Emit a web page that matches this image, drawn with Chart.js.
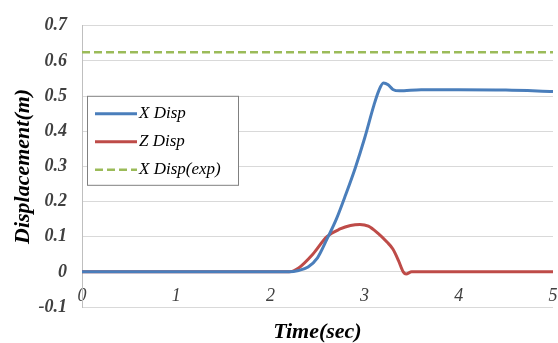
<!DOCTYPE html>
<html>
<head>
<meta charset="utf-8">
<script src="https://cdn.jsdelivr.net/npm/chart.js@4/dist/chart.umd.min.js"></script>
<style>
	html, body { margin: 0; padding: 0; background: #fff; }
	#wrap { width: 558px; height: 343px; position: relative; }
</style>
</head>
<body>
<div id="wrap"><canvas id="chart"></canvas></div>
<script>
"use strict";

// values
const xDispTime = [0, 2.2, 2.3, 2.4, 2.5, 2.6, 2.7, 2.8, 2.9, 3.0, 3.1, 3.15, 3.2, 3.25, 3.3, 3.37, 3.6, 4.0, 4.5, 5.0]
const xDisp = [0, 0, 0.004, 0.014, 0.04, 0.093, 0.15, 0.22, 0.295, 0.38, 0.475, 0.515, 0.537, 0.532, 0.519, 0.515, 0.518, 0.518, 0.517, 0.513]

const zDispTime = [0, 2.2, 2.3, 2.45, 2.6, 2.74, 2.85, 2.95, 3.04, 3.14, 3.24, 3.3, 3.36, 3.41, 3.44, 3.5, 5.0]
const zDisp = [0, 0, 0.011, 0.05, 0.1, 0.122, 0.132, 0.135, 0.13, 0.11, 0.084, 0.065, 0.032, 0, -0.006, 0, 0]

const expTime = [0, 5]
const xDispExp = [0.625, 0.625]

const seriesNames = ['X Disp', 'Z Disp', 'X Disp(exp)']

const serif = '"Liberation Serif", "Times New Roman", serif'

const pairs = (xs, ys) => xs.map((x, i) => ({ x: x, y: ys[i] }))

// legend box inside the plot, like the excel one
const boxLegend = {
	id: 'boxLegend',
	afterDatasetsDraw(chart) {
		const ctx = chart.ctx
		const area = chart.chartArea
		const left = area.left + 5
		const top = area.top + 70
		const w = 151
		const h = 89

		ctx.save()
		ctx.fillStyle = '#ffffff'
		ctx.fillRect(left, top, w, h)
		ctx.strokeStyle = '#808080'
		ctx.lineWidth = 1
		ctx.strokeRect(left + 0.5, top + 0.5, w, h)

		ctx.font = 'italic 17px ' + serif
		ctx.textBaseline = 'middle'
		ctx.fillStyle = '#000000'

		chart.data.datasets.forEach((ds, i) => {
			const y = top + 18 + i * 28
			ctx.beginPath()
			ctx.strokeStyle = ds.borderColor
			ctx.lineWidth = ds.borderWidth
			ctx.setLineDash(ds.borderDash || [])
			ctx.moveTo(left + 8, y)
			ctx.lineTo(left + 50, y)
			ctx.stroke()
			ctx.setLineDash([])
			ctx.fillText(ds.label, left + 52, y)
		})
		ctx.restore()
	}
}

const chart = new Chart(document.getElementById('chart'), {
	type: 'line',
	data: {
		datasets: [{
			label: seriesNames[0],
			data: pairs(xDispTime, xDisp),
			borderColor: '#4a7ebb',
			borderWidth: 3
		}, {
			label: seriesNames[1],
			data: pairs(zDispTime, zDisp),
			borderColor: '#be4b48',
			borderWidth: 3
		}, {
			label: seriesNames[2],
			data: pairs(expTime, xDispExp),
			borderColor: '#9bbb59',
			borderWidth: 2.5,
			borderDash: [8, 4]
		}]
	},
	options: {
		responsive: true,
		maintainAspectRatio: false,
		animation: false,
		devicePixelRatio: 1,
		layout: { padding: { top: 24, right: 5, bottom: 0, left: 0 } },
		elements: {
			point: { radius: 0 },
			line: { cubicInterpolationMode: 'monotone', fill: false }
		},
		plugins: {
			legend: { display: false },
			tooltip: { enabled: false },
			title: {
				display: true,
				position: 'bottom',
				fullSize: false,
				text: 'Time(sec)',
				color: '#000000',
				font: { family: serif, size: 22, style: 'italic', weight: 'bold', lineHeight: 1.0 },
				padding: { top: 14, bottom: 0 }
			}
		},
		scales: {
			x: {
				type: 'linear',
				position: { y: 0 },
				min: 0,
				max: 5,
				afterFit: (scale) => {
					scale.height = 0
					scale.paddingLeft = 0
					scale.paddingRight = 0
				},
				grid: { display: false, drawTicks: false },
				border: { display: false },
				ticks: {
					stepSize: 1,
					padding: 14,
					maxRotation: 0,
					color: '#404040',
					font: { family: serif, size: 18, style: 'italic' }
				}
			},
			y: {
				min: -0.1,
				max: 0.7,
				afterFit: (scale) => { scale.width = 82 },
				grid: { color: '#d9d9d9', lineWidth: 1, drawTicks: false },
				border: { color: '#bfbfbf' },
				ticks: {
					stepSize: 0.1,
					padding: 15,
					color: '#404040',
					font: { family: serif, size: 18, style: 'italic', weight: 'bold' },
					callback: (v) => Number(v.toFixed(1)).toString()
				},
				title: {
					display: true,
					text: 'Displacement(m)',
					color: '#000000',
					font: { family: serif, size: 22, style: 'italic', weight: 'bold' },
					padding: { top: 10, bottom: 0 }
				}
			}
		}
	},
	plugins: [boxLegend]
})
</script>
</body>
</html>
